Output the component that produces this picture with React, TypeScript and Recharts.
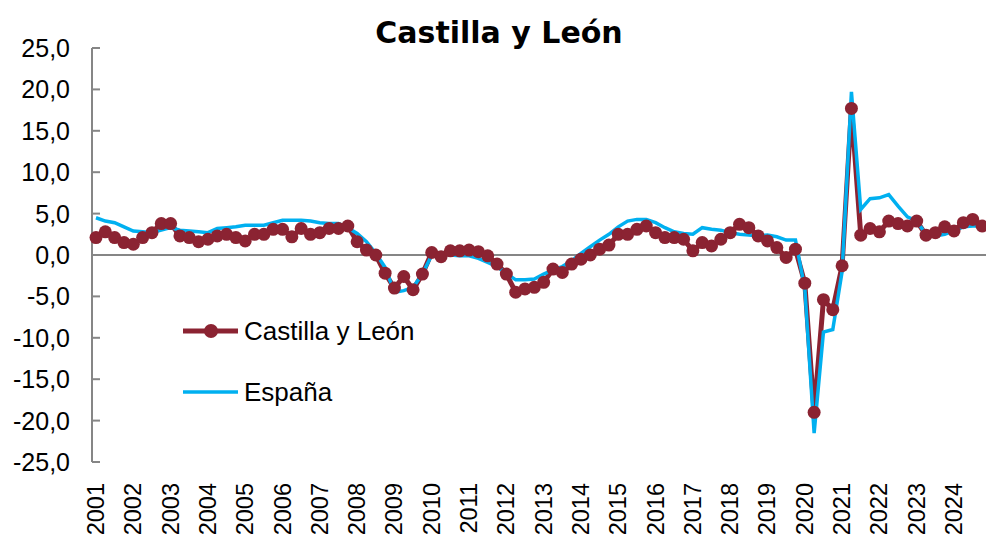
import React from 'react'
import { LineChart, Line, XAxis, YAxis, ReferenceLine, Legend } from 'recharts'

const years = [2001, 2002, 2003, 2004, 2005, 2006, 2007, 2008, 2009, 2010, 2011, 2012,
  2013, 2014, 2015, 2016, 2017, 2018, 2019, 2020, 2021, 2022, 2023, 2024]
const quarters = ['T1', 'T2', 'T3', 'T4']

// tasa de variación interanual, trimestral
const castillaLeon = [
  2.1, 2.8, 2.1, 1.5,
  1.3, 2.1, 2.7, 3.8,
  3.8, 2.3, 2.1, 1.6,
  1.9, 2.3, 2.5, 2.1,
  1.7, 2.5, 2.5, 3.1,
  3.1, 2.2, 3.2, 2.5,
  2.7, 3.2, 3.2, 3.5,
  1.6, 0.6, 0.0, -2.2,
  -4.0, -2.6, -4.2, -2.3,
  0.3, -0.2, 0.5, 0.5,
  0.6, 0.4, -0.1, -1.1,
  -2.3, -4.5, -4.1, -3.9,
  -3.3, -1.7, -2.1, -1.1,
  -0.5, 0.0, 0.7, 1.2,
  2.5, 2.5, 3.1, 3.5,
  2.7, 2.1, 2.1, 1.9,
  0.5, 1.5, 1.1, 1.9,
  2.7, 3.7, 3.3, 2.3,
  1.7, 0.9, -0.3, 0.7,
  -3.4, -19.0, -5.4, -6.6,
  -1.3, 17.7, 2.4, 3.2,
  2.8, 4.1, 3.8, 3.5,
  4.1, 2.4, 2.7, 3.4,
  2.9, 3.9, 4.3, 3.5,
]

const espana = [
  4.5, 4.1, 3.9, 3.4,
  2.9, 2.8, 2.7, 3.0,
  3.3, 3.0, 2.9, 2.8,
  2.7, 3.2, 3.3, 3.4,
  3.6, 3.6, 3.6, 3.9,
  4.2, 4.2, 4.2, 4.1,
  3.9, 3.8, 3.8, 3.3,
  2.6, 1.6, 0.2, -1.5,
  -4.5, -4.3, -3.9, -2.3,
  0.0, 0.1, 0.0, -0.1,
  -0.1, -0.4, -0.9, -1.4,
  -2.2, -3.0, -3.0, -2.9,
  -2.3, -1.8, -1.4, -0.7,
  0.2, 1.0, 1.8, 2.5,
  3.4, 4.1, 4.3, 4.3,
  3.9, 3.3, 2.8, 2.6,
  2.5, 3.3, 3.1, 3.0,
  2.7, 2.5, 2.4, 2.3,
  2.4, 2.2, 1.8, 1.8,
  -4.0, -21.5, -9.3, -9.0,
  -2.0, 19.7, 5.5, 6.8,
  6.9, 7.3, 5.9, 4.6,
  4.1, 2.5, 2.3, 2.5,
  2.9, 3.4, 3.5, 3.5,
]

const yTicks = [-25, -20, -15, -10, -5, 0, 5, 10, 15, 20, 25]

const MAROON = '#8B2332'
const BLUE = '#00B0F0'
const GREY = '#868686'
const FONT = '"Liberation Sans", Arial, sans-serif'

const data = years.flatMap((y, yi) =>
  quarters.map((q, qi) => ({
    periodo: `${y}${q}`,
    year: y,
    q: qi,
    cyl: castillaLeon[yi * 4 + qi],
    esp: espana[yi * 4 + qi],
  }))
)

function YearTick(props: any) {
  const { x, y, payload } = props
  const d = data[payload.index]
  if (!d || d.q !== 0) return <g />
  const ty = y + 21
  return (
    <text x={x} y={ty} transform={`rotate(-90, ${x}, ${ty})`} textAnchor="end"
      dominantBaseline="central" fontSize={23.5} fill="#000" fontFamily={FONT}>
      {d.year}
    </text>
  )
}

function ValueTick(props: any) {
  const { x, y, payload } = props
  return (
    <g>
      <line x1={x + 22} x2={x + 30} y1={y} y2={y} stroke={GREY} strokeWidth={2} />
      <text x={x} y={y} textAnchor="end" dy="0.36em" fontSize={25} fill="#000" fontFamily={FONT}>
        {payload.value.toFixed(1).replace('.', ',')}
      </text>
    </g>
  )
}

function ChartLegend(props: any) {
  const items = props.payload || []
  return (
    <svg width={270} height={110}>
      {items.map((it: any, i: number) => {
        const cy = 31 + i * 61
        const isCyl = it.dataKey === 'cyl'
        return (
          <g key={it.value}>
            <line x1={13} x2={68} y1={cy} y2={cy} stroke={it.color} strokeWidth={isCyl ? 5 : 3.5} />
            {isCyl && <circle cx={41} cy={cy} r={7} fill={it.color} />}
            <text x={74} y={cy + 8.5} fontSize={26} fill="#000" fontFamily={FONT}>{it.value}</text>
          </g>
        )
      })}
    </svg>
  )
}

export default function App() {
  return (
    <div style={{ position: 'absolute', left: 0, top: 0, width: 986, height: 548, background: '#fff', fontFamily: FONT }}>
      <svg width={986} height={548} style={{ position: 'absolute', left: 0, top: 0, pointerEvents: 'none' }}>
        <text x={499} y={43} textAnchor="middle" fontSize={30} fontWeight="bold"
          fontFamily='"DejaVu Sans", Verdana, sans-serif' fill="#000">
          Castilla y León
        </text>
      </svg>
      <div style={{ position: 'absolute', left: 0, top: 0 }}>
        <LineChart width={986} height={548} data={data} margin={{ top: 48, right: 0, bottom: 0, left: 0 }}>
          <XAxis dataKey="periodo" height={86} interval={0} tickSize={0} tickMargin={0}
            axisLine={false} tickLine={false} tick={<YearTick />} padding={{ left: 4, right: 4 }} />
          <YAxis type="number" domain={[-25, 25]} ticks={yTicks} width={92} tickSize={0} tickMargin={22}
            axisLine={{ stroke: GREY, strokeWidth: 2 }} tickLine={false} tick={<ValueTick />} />
          <ReferenceLine y={0} stroke={GREY} strokeWidth={2} />
          <Line type="linear" dataKey="cyl" name="Castilla y León" stroke={MAROON} strokeWidth={5}
            dot={{ r: 6.5, fill: MAROON, stroke: MAROON, strokeWidth: 0 }} activeDot={false} isAnimationActive={false} />
          <Line type="linear" dataKey="esp" name="España" stroke={BLUE} strokeWidth={3.5}
            dot={false} activeDot={false} isAnimationActive={false} />
          <Legend layout="vertical" align="center" verticalAlign="middle" content={<ChartLegend />}
            wrapperStyle={{ left: 170, top: 300, width: 270, height: 110 }} />
        </LineChart>
      </div>
    </div>
  )
}
